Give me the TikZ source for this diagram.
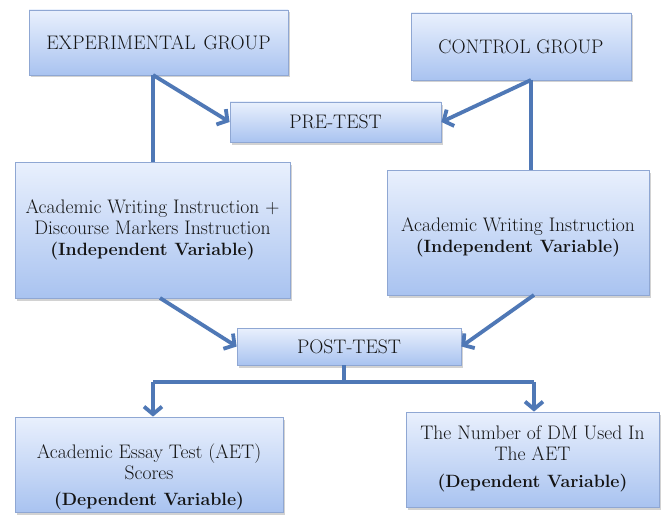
\documentclass[tikz,border=0pt]{standalone}
\usetikzlibrary{arrows.meta,shadows}
\definecolor{boxtop}{HTML}{E9F0FD}
\definecolor{boxbot}{HTML}{A9C3F0}
\definecolor{boxline}{HTML}{8FA7D3}
\definecolor{arrowc}{HTML}{4F78B6}
\definecolor{txt}{HTML}{141414}
\newcommand{\bfline}[1]{{\fontsize{17.8}{21}\selectfont\textbf{#1}}}
\tikzset{
  flowbox/.style={draw=boxline, line width=0.8pt, top color=boxtop, bottom color=boxbot,
    inner sep=0pt, align=center, text=txt,
    font=\fontsize{19.6}{21}\selectfont,
    drop shadow={shadow xshift=2pt, shadow yshift=-2.5pt, opacity=0.35, fill=gray}},
  boxtext/.style={inner sep=0pt, align=center, text=txt, font=\fontsize{19.6}{21}\selectfont},
  conn/.style={draw=arrowc, line width=3.8pt},
  arr/.style={conn, -{Straight Barb[length=7.5pt,width=18pt]}},
}
\begin{document}
\begin{tikzpicture}[x=1pt,y=-1pt]
\useasboundingbox[fill=white] (0,0) rectangle (668,516);

% boxes
\node[flowbox, minimum width=259pt, minimum height=65pt] (exp) at (158.5,42.5) {EXPERIMENTAL\hspace{0.4em}GROUP};
\node[flowbox, minimum width=220pt, minimum height=67pt] (ctrl) at (521,46.5) {CONTROL\hspace{0.3em}GROUP};
\node[flowbox, minimum width=211pt, minimum height=40pt] (pre) at (335.5,122) {PRE-TEST};
\node[flowbox, minimum width=275pt, minimum height=136pt] (lm) at (152.5,230) {Academic Writing Instruction +\\Discourse Markers Instruction\\\bfline{(Independent Variable)}};
\node[flowbox, minimum width=262pt, minimum height=125pt] (rm) at (518,232.5) {};
\node[boxtext] (rmtext) at (518,237) {Academic Writing Instruction\\\bfline{(Independent Variable)}};
\node[flowbox, minimum width=224pt, minimum height=37pt] (post) at (349,346.5) {POST-TEST};
\node[flowbox, minimum width=268pt, minimum height=95pt] (bl) at (149,464.5) {};
\node[boxtext, anchor=north] (bltext) at (149,444) {Academic Essay Test (AET)\\Scores\\[5pt]\bfline{(Dependent Variable)}};
\node[flowbox, minimum width=253pt, minimum height=95pt] (br) at (532.5,459.5) {};
\node[boxtext, anchor=north] (brtext) at (532.5,426) {The Number of DM Used In\\The AET\\[6pt]\bfline{(Dependent Variable)}};

% connector points
\coordinate (e0) at (153,75);
\coordinate (c0) at (531,80);
\coordinate (l0) at (160,298);
\coordinate (r0) at (534,295);
\coordinate (p0) at (344,365);
\coordinate (p1) at (344,382);
\coordinate (bl0) at (153,382);
\coordinate (br0) at (534,382);

% connectors
\draw[conn] (e0) -- (e0 |- lm.north);
\draw[arr] (e0) -- (pre.west);
\draw[conn] (c0) -- (c0 |- rm.north);
\draw[arr] (c0) -- (pre.east);
\draw[arr] (l0) -- (post.west);
\draw[arr] (r0) -- (post.east);
\draw[conn] (p0) -- (p1);
\draw[conn] (bl0) -- (br0);
\draw[arr] (bl0) -- (bl0 |- bl.north);
\draw[arr] (br0) -- (br0 |- br.north);
\end{tikzpicture}
\end{document}
